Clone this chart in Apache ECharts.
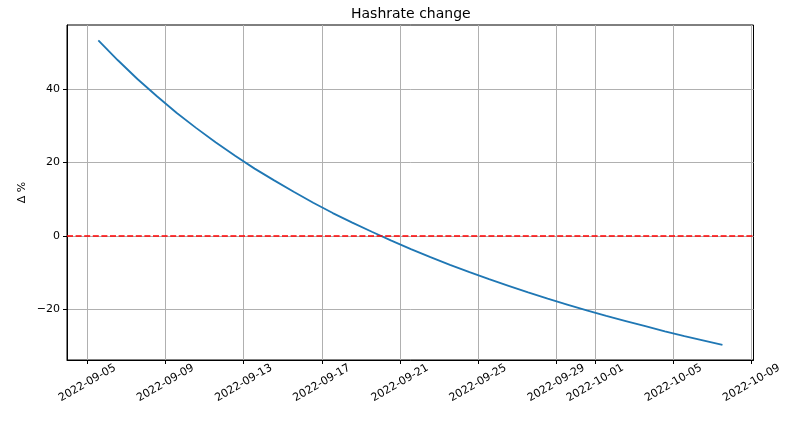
<!DOCTYPE html>
<html>
<head>
<meta charset="utf-8">
<script src="https://cdn.jsdelivr.net/npm/echarts@6/dist/echarts.min.js"></script>
<style>
html,body{margin:0;padding:0;background:#fff;}
#chart{width:800px;height:424px;}
</style>
</head>
<body>
<div id="chart"></div>
<script>
// Data
const dates = [
  "2022-09-05 13:30","2022-09-06 13:30","2022-09-07 13:30","2022-09-08 13:30",
  "2022-09-09 13:30","2022-09-10 13:30","2022-09-11 13:30","2022-09-12 13:30",
  "2022-09-13 13:30","2022-09-14 13:30","2022-09-15 13:30","2022-09-16 13:30",
  "2022-09-17 13:30","2022-09-18 13:30","2022-09-19 13:30","2022-09-20 13:30",
  "2022-09-21 13:30","2022-09-22 13:30","2022-09-23 13:30","2022-09-24 13:30",
  "2022-09-25 13:30","2022-09-26 13:30","2022-09-27 13:30","2022-09-28 13:30",
  "2022-09-29 13:30","2022-09-30 13:30","2022-10-01 13:30","2022-10-02 13:30",
  "2022-10-03 13:30","2022-10-04 13:30","2022-10-05 13:30","2022-10-06 13:30",
  "2022-10-07 12:15"
];
const deltaPct = [
  53.2, 47.8, 42.7, 38.0, 33.5, 29.4, 25.5, 21.8,
  18.3, 15.1, 12.0, 9.0, 6.2, 3.6, 1.1, -1.3,
  -3.6, -5.8, -7.9, -9.9, -11.8, -13.6, -15.4, -17.1,
  -18.7, -20.3, -21.8, -23.2, -24.6, -26.0, -27.3, -28.5,
  -29.7
];
const xTickLabels = ["2022-09-05","2022-09-09","2022-09-13","2022-09-17","2022-09-21",
  "2022-09-25","2022-09-29","2022-10-01","2022-10-05","2022-10-09"];
const yTickLabels = [-20, 0, 20, 40];
const referenceLevel = 0;
const titleText = "Hashrate change";
const yName = "Δ %";

function ts(s){ const p = s.split(/[- :]/).map(Number); return Date.UTC(p[0], p[1]-1, p[2], p[3]||0, p[4]||0); }
const xTicks = xTickLabels.map(ts);
const seriesData = dates.map((d,i)=>[ts(d), deltaPct[i]]);
function pad(n){return n<10?'0'+n:''+n;}
function fmt(v){ const d=new Date(v); return d.getUTCFullYear()+'-'+pad(d.getUTCMonth()+1)+'-'+pad(d.getUTCDate()); }

const chart = echarts.init(document.getElementById('chart'), null, {renderer:'canvas'});
const font = 'DejaVu Sans';
chart.setOption({
  animation:false,
  backgroundColor:'#fff',
  title:{ text:titleText, left:351, top:7, padding:0,
    textStyle:{fontFamily:font,fontSize:14,fontWeight:'normal',color:'#000'} },
  grid:{ left:67, right:46.5, top:25, bottom:64, show:true, borderColor:'#000', borderWidth:1, backgroundColor:'transparent' },
  xAxis:{
    type:'value',
    min: ts("2022-09-03 23:00"),
    max: ts("2022-10-09 02:24"),
    axisLine:{show:true, onZero:false, lineStyle:{color:'#000',width:1}},
    axisTick:{show:true, customValues:xTicks, length:4, inside:false, lineStyle:{color:'#000'}},
    axisLabel:{ customValues:xTicks, formatter:(v)=>fmt(v), rotate:30, align:'center', verticalAlign:'middle',
      margin:23, fontFamily:font, fontSize:11, color:'#000', hideOverlap:false, showMinLabel:true, showMaxLabel:true },
    splitLine:{show:true, lineStyle:{color:'#b0b0b0', width:1}}
  },
  yAxis:{
    type:'value',
    min:-33.8, max:57.4,
    name:yName, nameLocation:'middle', nameGap:45, nameRotate:90, nameMoveOverlap:false,
    nameTextStyle:{fontFamily:font,fontSize:11,color:'#000', verticalAlign:'middle'},
    axisLine:{show:true, onZero:false, lineStyle:{color:'#000',width:1}},
    axisTick:{show:true, customValues:yTickLabels, length:4, lineStyle:{color:'#000'}},
    axisLabel:{ customValues:yTickLabels, formatter:(v)=> (v<0? '\u2212'+Math.abs(v) : ''+v),
      margin:7, fontFamily:font, fontSize:11, color:'#000' },
    splitLine:{show:true, lineStyle:{color:'#b0b0b0', width:1}}
  },
  series:[{
    type:'line',
    data:seriesData,
    showSymbol:false,
    smooth:false,
    lineStyle:{color:'#1f77b4', width:1.8},
    itemStyle:{color:'#1f77b4'},
    markLine:{
      silent:true, symbol:['none','none'], label:{show:false},
      lineStyle:{color:'#ff0000', width:1.7, type:[6,2.6]},
      data:[{yAxis:referenceLevel}]
    },
    z:3
  }]
});
</script>
</body>
</html>
